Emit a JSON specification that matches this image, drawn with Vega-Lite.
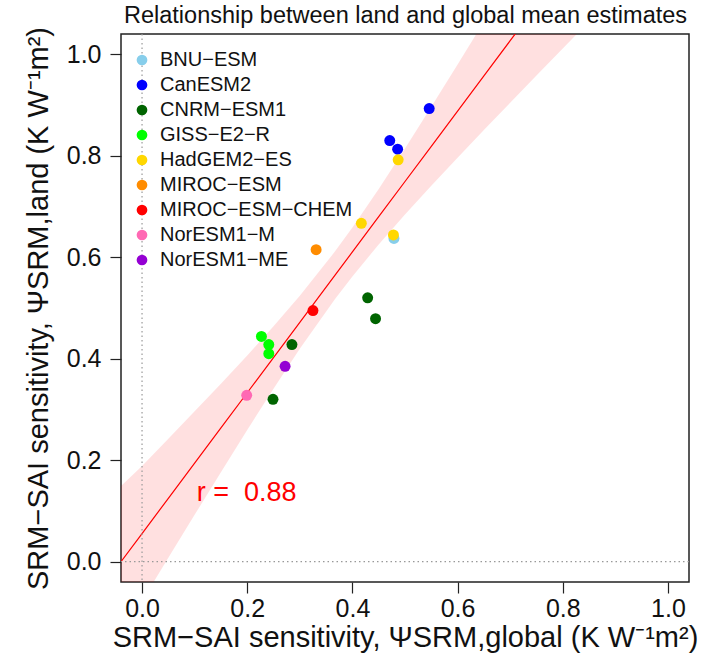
{
  "$schema": "https://vega.github.io/schema/vega-lite/v6.json",
  "width": 568,
  "height": 548,
  "autosize": {"type": "none"},
  "padding": {"left": 121, "top": 34, "right": 19, "bottom": 82},
  "background": "white",
  "config": {
    "font": "Liberation Sans",
    "view": {"stroke": "#222222", "strokeWidth": 1.5},
    "axis": {
      "grid": false, "domain": false, "tickColor": "#222222", "tickSize": 11, "tickWidth": 1.2,
      "labelFont": "Liberation Sans", "labelFontSize": 25, "labelColor": "#111111",
      "titleFont": "Liberation Sans", "titleFontSize": 29, "titleFontWeight": "normal", "titleColor": "#111111"
    }
  },
  "title": {
    "text": "Relationship between land and global mean estimates",
    "anchor": "start", "frame": "group", "fontSize": 23.5, "fontWeight": "normal",
    "font": "Liberation Sans", "color": "#111111", "offset": 2, "dx": 3, "dy": 3
  },
  "datasets": {
    "points": [
      {"model": "BNU\u2212ESM", "x": 0.479, "y": 0.637},
      {"model": "CanESM2", "x": 0.546, "y": 0.893},
      {"model": "CanESM2", "x": 0.471, "y": 0.830},
      {"model": "CanESM2", "x": 0.486, "y": 0.813},
      {"model": "CNRM\u2212ESM1", "x": 0.429, "y": 0.520},
      {"model": "CNRM\u2212ESM1", "x": 0.444, "y": 0.479},
      {"model": "CNRM\u2212ESM1", "x": 0.285, "y": 0.428},
      {"model": "CNRM\u2212ESM1", "x": 0.249, "y": 0.320},
      {"model": "GISS\u2212E2\u2212R", "x": 0.227, "y": 0.444},
      {"model": "GISS\u2212E2\u2212R", "x": 0.241, "y": 0.428},
      {"model": "GISS\u2212E2\u2212R", "x": 0.241, "y": 0.410},
      {"model": "HadGEM2\u2212ES", "x": 0.487, "y": 0.792},
      {"model": "HadGEM2\u2212ES", "x": 0.417, "y": 0.667},
      {"model": "HadGEM2\u2212ES", "x": 0.478, "y": 0.644},
      {"model": "MIROC\u2212ESM", "x": 0.331, "y": 0.615},
      {"model": "MIROC\u2212ESM\u2212CHEM", "x": 0.325, "y": 0.495},
      {"model": "NorESM1\u2212M", "x": 0.199, "y": 0.328},
      {"model": "NorESM1\u2212ME", "x": 0.272, "y": 0.385}
    ],
    "band": [
      {"x": -0.04, "lo": -0.149, "hi": 0.149, "fit": 0.0000},
      {"x": 0.0, "lo": -0.0775, "hi": 0.1885, "fit": 0.0555},
      {"x": 0.05, "lo": 0.0076, "hi": 0.2422, "fit": 0.1249},
      {"x": 0.1, "lo": 0.0923, "hi": 0.2963, "fit": 0.1943},
      {"x": 0.15, "lo": 0.1763, "hi": 0.3509, "fit": 0.2636},
      {"x": 0.2, "lo": 0.2595, "hi": 0.4065, "fit": 0.3330},
      {"x": 0.25, "lo": 0.3410, "hi": 0.4638, "fit": 0.4024},
      {"x": 0.3, "lo": 0.4197, "hi": 0.5239, "fit": 0.4718},
      {"x": 0.367, "lo": 0.5178, "hi": 0.6116, "fit": 0.5647},
      {"x": 0.4, "lo": 0.5623, "hi": 0.6587, "fit": 0.6105},
      {"x": 0.45, "lo": 0.6252, "hi": 0.7346, "fit": 0.6799},
      {"x": 0.5, "lo": 0.6842, "hi": 0.8144, "fit": 0.7493},
      {"x": 0.55, "lo": 0.7409, "hi": 0.8965, "fit": 0.8187},
      {"x": 0.6, "lo": 0.7962, "hi": 0.9800, "fit": 0.8881},
      {"x": 0.65, "lo": 0.8506, "hi": 1.0642, "fit": 0.9574},
      {"x": 0.7, "lo": 0.9045, "hi": 1.1491, "fit": 1.0268},
      {"x": 0.75, "lo": 0.9581, "hi": 1.2343, "fit": 1.0962},
      {"x": 0.8, "lo": 1.0115, "hi": 1.3197, "fit": 1.1656},
      {"x": 0.85, "lo": 1.0646, "hi": 1.4054, "fit": 1.2350}
    ]
  },
  "layer": [
    {
      "data": {"name": "band"},
      "mark": {"type": "area", "clip": true, "color": "#ff0000", "opacity": 0.12},
      "encoding": {
        "x": {
          "field": "x", "type": "quantitative",
          "scale": {"domain": [-0.04, 1.04], "nice": false, "zero": false},
          "axis": {
            "values": [0, 0.2, 0.4, 0.6, 0.8, 1.0], "format": ".1f", "labelPadding": 3, "labelFlush": false,
            "title": "SRM\u2212SAI sensitivity, \u03a8SRM,global (K W\u207b\u00b9m\u00b2)",
            "titleY": 64, "titleBaseline": "alphabetic"
          }
        },
        "y": {
          "field": "lo", "type": "quantitative",
          "scale": {"domain": [-0.04, 1.04], "nice": false, "zero": false},
          "axis": {
            "values": [0, 0.2, 0.4, 0.6, 0.8, 1.0], "format": ".1f", "labelPadding": 9, "labelFlush": false,
            "title": "SRM\u2212SAI sensitivity, \u03a8SRM,land (K W\u207b\u00b9m\u00b2)",
            "titleX": -74, "titleBaseline": "alphabetic"
          }
        },
        "y2": {"field": "hi"}
      }
    },
    {
      "data": {"name": "band"},
      "mark": {"type": "line", "clip": true, "color": "#ff0000", "strokeWidth": 1.2},
      "encoding": {
        "x": {"field": "x", "type": "quantitative"},
        "y": {"field": "fit", "type": "quantitative"}
      }
    },
    {
      "data": {"values": [{"v": 0}]},
      "mark": {"type": "rule", "color": "#999999", "strokeDash": [1.5, 3], "strokeWidth": 1.2},
      "encoding": {"x": {"field": "v", "type": "quantitative"}}
    },
    {
      "data": {"values": [{"v": 0}]},
      "mark": {"type": "rule", "color": "#999999", "strokeDash": [1.5, 3], "strokeWidth": 1.2},
      "encoding": {"y": {"field": "v", "type": "quantitative"}}
    },
    {
      "data": {"name": "points"},
      "mark": {"type": "circle", "size": 120, "opacity": 1},
      "encoding": {
        "x": {"field": "x", "type": "quantitative"},
        "y": {"field": "y", "type": "quantitative"},
        "color": {
          "field": "model", "type": "nominal",
          "scale": {
            "domain": ["BNU\u2212ESM", "CanESM2", "CNRM\u2212ESM1", "GISS\u2212E2\u2212R", "HadGEM2\u2212ES", "MIROC\u2212ESM", "MIROC\u2212ESM\u2212CHEM", "NorESM1\u2212M", "NorESM1\u2212ME"],
            "range": ["#87CEEB", "#0000FF", "#006400", "#00FF00", "#FFD700", "#FF8C00", "#FF0000", "#FF69B4", "#9400D3"]
          },
          "legend": {
            "orient": "none", "legendX": 11, "legendY": 16, "title": null, "padding": 0,
            "labelFontSize": 20, "labelFont": "Liberation Sans", "labelColor": "#111111", "labelLimit": 400,
            "symbolType": "circle", "symbolSize": 115, "symbolStrokeWidth": 0, "symbolOpacity": 1,
            "rowPadding": 5, "labelOffset": 8
          }
        }
      }
    },
    {
      "data": {"values": [{"x": 0.104, "y": 0.119, "label": "r =\u00a0 0.88"}]},
      "mark": {"type": "text", "align": "left", "baseline": "alphabetic", "fontSize": 27, "color": "#ff0000", "font": "Liberation Sans"},
      "encoding": {
        "x": {"field": "x", "type": "quantitative"},
        "y": {"field": "y", "type": "quantitative"},
        "text": {"field": "label"}
      }
    }
  ]
}
